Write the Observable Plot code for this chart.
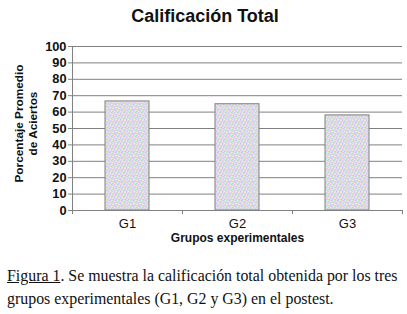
<!DOCTYPE html>
<html>
<head>
<meta charset="utf-8">
<script src="https://cdn.jsdelivr.net/npm/d3@7"></script>
<script src="https://cdn.jsdelivr.net/npm/@observablehq/plot@0.6"></script>
<style>
  html, body { margin: 0; padding: 0; background: #fff; }
  #title { font-family: "Liberation Sans", Arial, sans-serif; font-weight: bold; font-size: 18px; text-align: center; height: 32px; line-height: 32px; padding-left: 3px; color: #111; }
  #caption { font-family: "Liberation Serif", "Times New Roman", serif; font-size: 15.9px; line-height: 23px; margin: 10px 0 0 7px; color: #111; white-space: nowrap; }
  #caption u { text-decoration: underline; }
</style>
</head>
<body>
<div id="title">Calificación Total</div>
<div id="chart"></div>
<div id="caption"><u>Figura 1</u>. Se muestra la calificación total obtenida por los tres<br>grupos experimentales (G1, G2 y G3) en el postest.</div>
<script>
const groups = ["G1", "G2", "G3"];
const scores = [66.5, 64.8, 58];
const yTicks = [0, 10, 20, 30, 40, 50, 60, 70, 80, 90, 100];
const xLabel = "Grupos experimentales";
const yLabel = "Porcentaje Promedio\nde Aciertos";

const data = groups.map((g, i) => ({group: g, score: scores[i]}));
const font = "Liberation Sans, Arial, sans-serif";

const chart = Plot.plot({
  width: 407,
  height: 222,
  marginTop: 14,
  marginBottom: 44,
  marginLeft: 72,
  marginRight: 5,
  style: {fontFamily: font, background: "transparent"},
  x: {domain: groups, paddingInner: 0.6, paddingOuter: 0.3, axis: null},
  y: {domain: [0, 100], axis: null},
  marks: [
    Plot.ruleY(yTicks, {stroke: "#808080", strokeWidth: 1}),
    Plot.ruleX([0], {x: () => groups[0], dx: -55, y1: 0, y2: 100, stroke: "#808080"}),
    Plot.barY(data, {x: "group", y: "score", fill: "url(#pastel)", stroke: "#808080", strokeWidth: 1}),
    Plot.ruleX(groups, {x: d => d, dx: -55, y1: 0, y2: -2.5, stroke: "#808080"}),
    Plot.ruleX([groups[groups.length - 1]], {x: d => d, dx: 55, y1: 0, y2: -2.5, stroke: "#808080"}),
    Plot.axisY({ticks: yTicks, tickSize: 4, tickPadding: 2, stroke: "#808080", fontSize: 12.8, fontWeight: "bold", fill: "#111", label: null}),
    Plot.axisX({tickSize: 0, tickPadding: 8, fontSize: 13, fill: "#111", label: null}),
    Plot.text([xLabel], {frameAnchor: "bottom", dy: 31, text: d => d, fontSize: 12, fontWeight: "bold", fill: "#111"}),
    Plot.text([yLabel], {frameAnchor: "left", textAnchor: "middle", dx: -47, dy: -5, rotate: -90, text: d => d, fontSize: 11.8, fontWeight: "bold", fill: "#111", lineHeight: 1.2})
  ]
});

// pastel dithered fill pattern (style only)
const ns = "http://www.w3.org/2000/svg";
const defs = document.createElementNS(ns, "defs");
const pat = document.createElementNS(ns, "pattern");
pat.setAttribute("id", "pastel");
pat.setAttribute("patternUnits", "userSpaceOnUse");
pat.setAttribute("width", 6);
pat.setAttribute("height", 6);
const palette = ["#f6cbe6", "#cdc6f6", "#c6dff6", "#f0eeb4", "#d6efc6", "#e6d2f2", "#cfd9fb", "#f6e0c8"];
const tile = [
  [0,1,2,3,4,5],
  [3,6,0,7,1,2],
  [5,2,4,1,6,0],
  [1,7,3,5,2,4],
  [6,0,5,2,7,3],
  [2,4,1,6,0,1]
];
tile.forEach((row, r) => row.forEach((c, k) => {
  const rect = document.createElementNS(ns, "rect");
  rect.setAttribute("x", k); rect.setAttribute("y", r);
  rect.setAttribute("width", 1); rect.setAttribute("height", 1);
  rect.setAttribute("fill", palette[c]);
  pat.appendChild(rect);
}));
defs.appendChild(pat);
chart.insertBefore(defs, chart.firstChild);
document.getElementById("chart").appendChild(chart);
</script>
</body>
</html>
